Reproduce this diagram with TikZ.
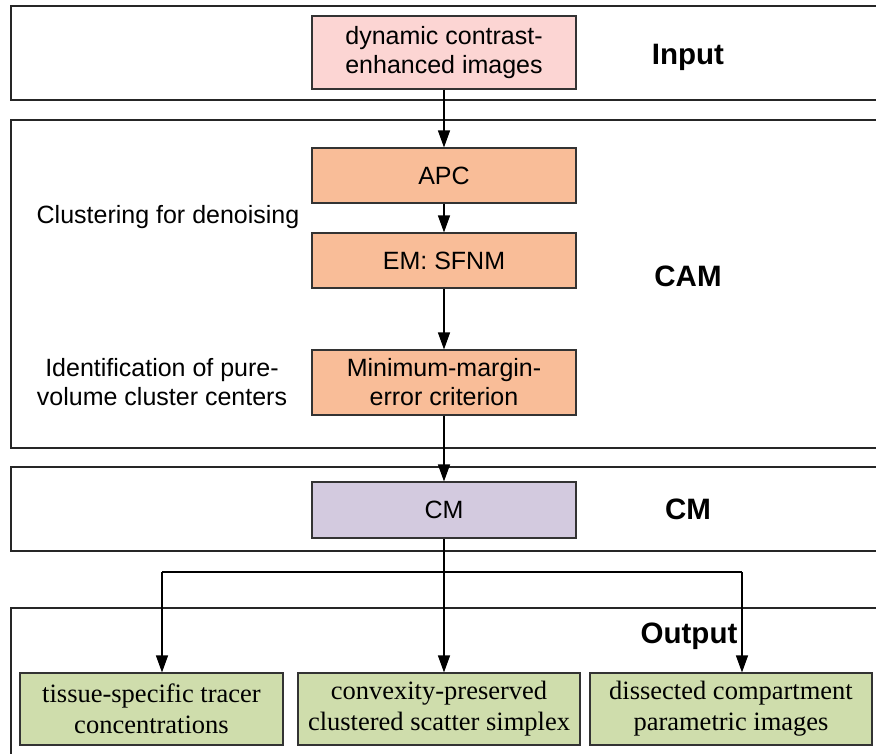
\documentclass[tikz,border=0pt]{standalone}
\usepackage{fontspec}
\setmainfont{Liberation Serif}
\setsansfont{Liberation Sans}
\usetikzlibrary{arrows.meta,calc}
\definecolor{inpink}{HTML}{FCD5D3}
\definecolor{camorange}{HTML}{F9BD98}
\definecolor{cmlilac}{HTML}{D3CADF}
\definecolor{outgreen}{HTML}{CFDDAC}
\tikzset{
  panel/.style={draw=black!85, line width=1.2pt},
  stepbox/.style={draw=black!80, line width=1.1pt, minimum width=264pt, inner sep=0pt,
    align=center, font=\sffamily\fontsize{25}{29}\selectfont},
  outbox/.style={draw=black!80, line width=1.1pt, fill=outgreen, minimum height=72pt, inner sep=0pt,
    align=center, font=\rmfamily\fontsize{26.5}{31}\selectfont},
  tag/.style={font=\sffamily\bfseries\fontsize{29.5}{34}\selectfont},
  note/.style={align=center, font=\sffamily\fontsize{25}{29}\selectfont},
  arr/.style={-{Triangle[length=17pt,width=12pt]}, line width=1.2pt, draw=black},
  wire/.style={line width=1.2pt, draw=black}
}
\begin{document}
\begin{tikzpicture}[x=1pt,y=-1pt]
\useasboundingbox (0,0) rectangle (876,753);
\clip (0,0) rectangle (876,753);

% stage panels (open on the right and, for the last one, at the bottom)
\draw[panel] (11,6) rectangle (890,100);
\draw[panel] (11,120) rectangle (890,448);
\draw[panel] (11,467) rectangle (890,551);
\draw[panel] (11,608) rectangle (890,770);

% processing steps
\node[stepbox, fill=inpink, minimum height=73pt] (in) at (444,52.5) {dynamic contrast-\\enhanced images};
\node[stepbox, fill=camorange, minimum height=55pt] (apc) at (444,175.5) {APC};
\node[stepbox, fill=camorange, minimum height=55pt] (em) at (444,260.5) {EM: SFNM};
\node[stepbox, fill=camorange, minimum height=65pt] (mme) at (444,382.5) {Minimum-margin-\\error criterion};
\node[stepbox, fill=cmlilac, minimum height=56pt] (cm) at (444,510) {CM};

% outputs
\node[outbox, minimum width=263pt] (o1) at (151.5,709) {tissue-specific tracer\\concentrations};
\node[outbox, minimum width=282pt] (o2) at (439,709) {convexity-preserved\\clustered scatter simplex};
\node[outbox, minimum width=282pt] (o3) at (731,709) {dissected compartment\\parametric images};

% stage titles
\node[tag] (tin) at (688,57) {Input};
\node[tag] (tcam) at (688,276) {CAM};
\node[tag] (tcm) at (688,509) {CM};
\node[tag] (tout) at (689,636) {Output};

% side notes
\node[note] (n1) at (168,217) {Clustering for denoising};
\node[note] (n2) at (162,382) {Identification of pure-\\volume cluster centers};

% connectors
\draw[arr] (in.south) -- (apc.north);
\draw[arr] (apc.south) -- (em.north);
\draw[arr] (em.south) -- (mme.north);
\draw[arr] (mme.south) -- (cm.north);
\draw[arr] (cm.south) -- (cm.south |- o2.north);
\coordinate (j1) at (162,572);
\coordinate (j3) at (742,572);
\draw[wire] (j1) -- (j3);
\draw[arr] (j1) -- (j1 |- o1.north);
\draw[arr] (j3) -- (j3 |- o3.north);
\end{tikzpicture}
\end{document}
